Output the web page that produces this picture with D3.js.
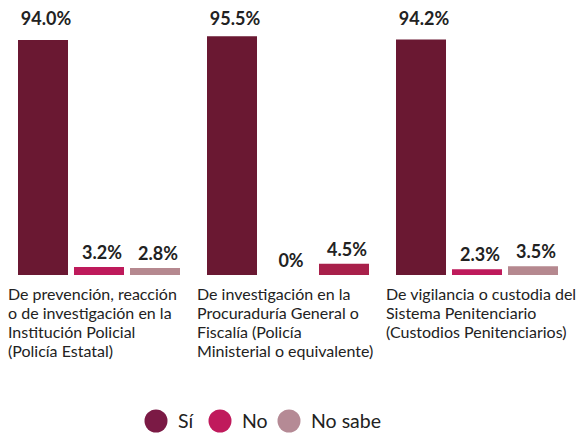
<!DOCTYPE html>
<html>
<head>
<meta charset="utf-8">
<script src="https://cdn.jsdelivr.net/npm/d3@7"></script>
<style>
  html, body { margin: 0; padding: 0; background: #fff; }
  svg { display: block; font-family: Lato, "Noto Sans", sans-serif; }
</style>
</head>
<body>
<svg id="chart" width="580" height="433"></svg>
<script>
// ---- data ----
const categories = [
  "De prevención, reacción o de investigación en la Institución Policial (Policía Estatal)",
  "De investigación en la Procuraduría General o Fiscalía (Policía Ministerial o equivalente)",
  "De vigilancia o custodia del Sistema Penitenciario (Custodios Penitenciarios)"
];
const categoryLines = [
  ["De prevención, reacción", "o de investigación en la", "Institución Policial", "(Policía Estatal)"],
  ["De investigación en la", "Procuraduría General o", "Fiscalía (Policía", "Ministerial o equivalente)"],
  ["De vigilancia o custodia del", "Sistema Penitenciario", "(Custodios Penitenciarios)"]
];
const seriesNames = ["Sí", "No", "No sabe"];
const siValues = [94.0, 95.5, 94.2];
const noValues = [3.2, 0, 2.3];
const noSabeValues = [2.8, 4.5, 3.5];
const valueLabels = [
  ["94.0%", "3.2%", "2.8%"],
  ["95.5%", "0%", "4.5%"],
  ["94.2%", "2.3%", "3.5%"]
];

// ---- styles ----
const barColors = { "Sí": "#6a1832", "No": "#be1a5b", "No sabe": "#b5888f" };
const legendColors = { "Sí": "#7b1a45", "No": "#c01a5c", "No sabe": "#b58a95" };
const overrideColor = { cat: 1, series: "No sabe", color: "#a8204a" };

const svg = d3.select("#chart");
const seriesValues = [siValues, noValues, noSabeValues];
const rows = categories.map((c, i) => ({
  cat: c, idx: i,
  bars: seriesNames.map((s, j) => ({ series: s, value: seriesValues[j][i], label: valueLabels[i][j], cat: c, catIdx: i }))
}));

const x0 = d3.scaleBand().domain(categories).range([5, 572]).paddingInner(0).paddingOuter(0);
const x1 = d3.scaleBand().domain(seriesNames).range([13, 175]).paddingInner(0.107).paddingOuter(0);
const y = d3.scaleLinear().domain([0, 100]).range([275, 25]);

const g = svg.selectAll("g.cat").data(rows).join("g")
  .attr("class", "cat")
  .attr("transform", d => `translate(${x0(d.cat)},0)`);

g.selectAll("rect").data(d => d.bars).join("rect")
  .attr("x", d => x1(d.series))
  .attr("width", x1.bandwidth())
  .attr("y", d => y(d.value))
  .attr("height", d => y(0) - y(d.value))
  .attr("fill", d => (d.catIdx === overrideColor.cat && d.series === overrideColor.series) ? overrideColor.color : barColors[d.series]);

g.selectAll("text.val").data(d => d.bars).join("text")
  .attr("class", "val")
  .attr("x", d => x1(d.series) + x1.bandwidth() / 2 + 3)
  .attr("y", d => d.value > 50 ? 25 : y(d.value) - 8)
  .attr("text-anchor", "middle")
  .attr("font-size", 18)
  .attr("font-weight", "bold")
  .attr("fill", "#222")
  .text(d => d.label);

g.append("text")
  .attr("class", "catlabel")
  .attr("fill", "#222")
  .attr("font-size", 16)
  .selectAll("tspan").data(d => categoryLines[d.idx]).join("tspan")
  .attr("x", x1(seriesNames[0]) - 10)
  .attr("y", (d, i) => 300 + i * 19)
  .text(d => d);

// ---- legend ----
const legendX = [156, 220, 289];
const legend = svg.append("g");
const li = legend.selectAll("g").data(seriesNames).join("g")
  .attr("transform", (d, i) => `translate(${legendX[i]},421)`);
li.append("circle").attr("r", 11.5).attr("fill", d => legendColors[d]);
li.append("text")
  .attr("x", 22).attr("y", 7)
  .attr("font-size", 19.5).attr("fill", "#222")
  .text(d => d);
</script>
</body>
</html>
